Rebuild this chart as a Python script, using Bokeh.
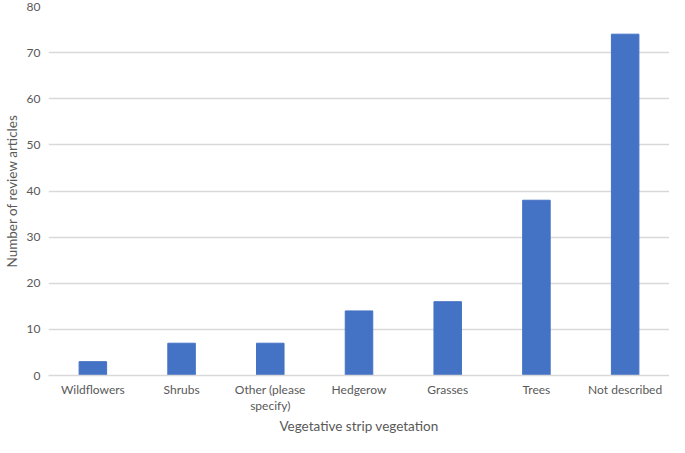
from bokeh.plotting import figure
from bokeh.models import FactorRange, Range1d, FixedTicker
from bokeh.embed import file_html
from bokeh.resources import INLINE

categories = ["Wildflowers", "Shrubs", "Other (please\nspecify)", "Hedgerow",
              "Grasses", "Trees", "Not described"]
counts = [3, 7, 7, 14, 16, 38, 74]
y_ticks = [0, 10, 20, 30, 40, 50, 60, 70, 80]

FONT = "Lato"
TXT = "#595959"
GRID = "#D9D9D9"

p = figure(width=669, height=437, x_range=FactorRange(factors=categories),
           y_range=Range1d(0, 80), output_backend="svg", toolbar_location=None,
           min_border_top=6, min_border_right=0, min_border_left=0, min_border_bottom=0)

p.vbar(x=categories, top=counts, width=0.31, color="#4472C4")

p.outline_line_color = None
p.xgrid.grid_line_color = None
p.ygrid.grid_line_color = GRID
p.ygrid.grid_line_width = 1.5
p.yaxis.ticker = FixedTicker(ticks=y_ticks)

for ax in (p.xaxis[0], p.yaxis[0]):
    ax.major_tick_line_color = None
    ax.minor_tick_line_color = None
    ax.major_tick_in = 0
    ax.major_tick_out = 0
    ax.minor_tick_in = 0
    ax.minor_tick_out = 0
    ax.major_label_text_font = FONT
    ax.major_label_text_color = TXT
    ax.major_label_text_font_size = "12px"
    ax.axis_label_text_font = FONT
    ax.axis_label_text_color = TXT
    ax.axis_label_text_font_size = "13.5px"
    ax.axis_label_text_font_style = "normal"

p.xaxis.major_label_text_line_height = 1.1
p.yaxis.axis_line_color = None
p.xaxis.axis_line_color = GRID
p.xaxis.axis_line_width = 1.5
p.xaxis.axis_label = "Vegetative strip vegetation"
p.yaxis.axis_label = "Number of review articles"
p.yaxis.major_label_standoff = 8
p.yaxis.axis_label_standoff = 4
p.xaxis.major_label_standoff = 6
p.xaxis.axis_label_standoff = 2

open("out.html", "w").write(file_html(p, INLINE))
